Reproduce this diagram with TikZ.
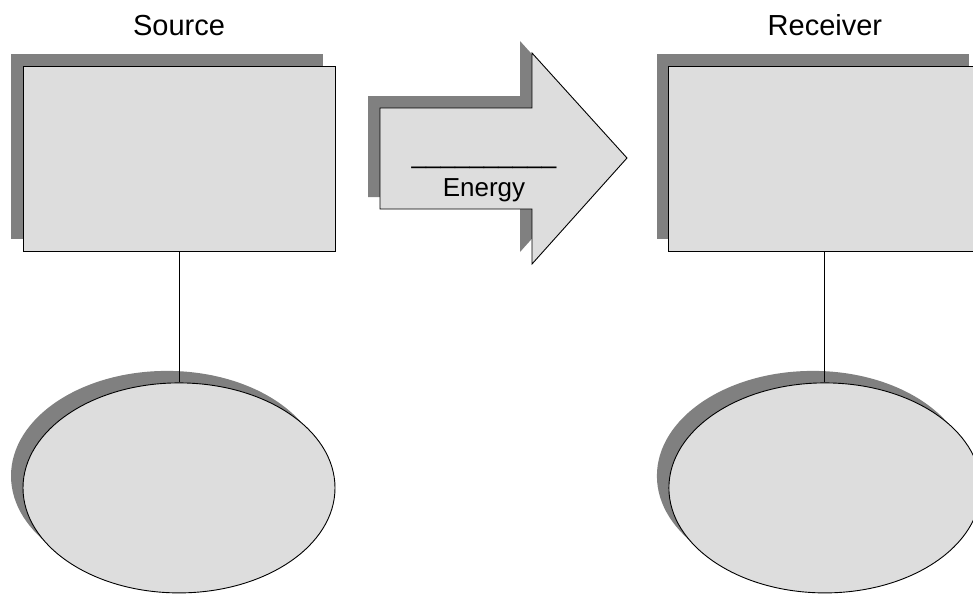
\documentclass[tikz,border=0pt]{standalone}
\usepackage{fontspec}
\setmainfont{Liberation Sans}
\usepackage{tikz}
\usetikzlibrary{positioning, shapes.geometric, shadows}
\definecolor{panel}{HTML}{DDDDDD}
\definecolor{shade}{HTML}{808080}

\begin{document}
\begin{tikzpicture}[x=1pt, y=-1pt, node distance=131pt, line width=0.9pt,
  shaded/.style={fill=panel, draw=black, drop shadow={shadow xshift=-12pt, shadow yshift=12pt, fill=shade, opacity=1}},
  box node/.style={shaded, rectangle, minimum width=312pt, minimum height=185pt, inner sep=0pt},
  oval node/.style={shaded, ellipse, minimum width=312pt, minimum height=210pt, inner sep=0pt},
  title/.style={inner sep=0pt, font=\fontsize{29}{35}\selectfont}]

\useasboundingbox (0,0) rectangle (973,594);

\node[box node] (src) at (179,158.5) {};
\node[box node] (rcv) [right=333pt of src] {};
\node[oval node] (srcoval) [below=of src] {};
\node[oval node] (rcvoval) [below=of rcv] {};
\node[title] (srclabel) [above=29pt of src] {Source};
\node[title] (rcvlabel) [above=29pt of rcv] {Receiver};

\draw[shaded] (380,108) -- (532,108) -- (532,53) -- (627,158) -- (532,264) -- (532,209) -- (380,209) -- cycle;
\node[inner sep=0pt, align=center, font=\fontsize{26}{33}\selectfont] (energy) at (484,183) {\_\_\_\_\_\_\_\_\_\_\\Energy};

\path
(src) edge (srcoval)
(rcv) edge (rcvoval)
;
\end{tikzpicture}
\end{document}
